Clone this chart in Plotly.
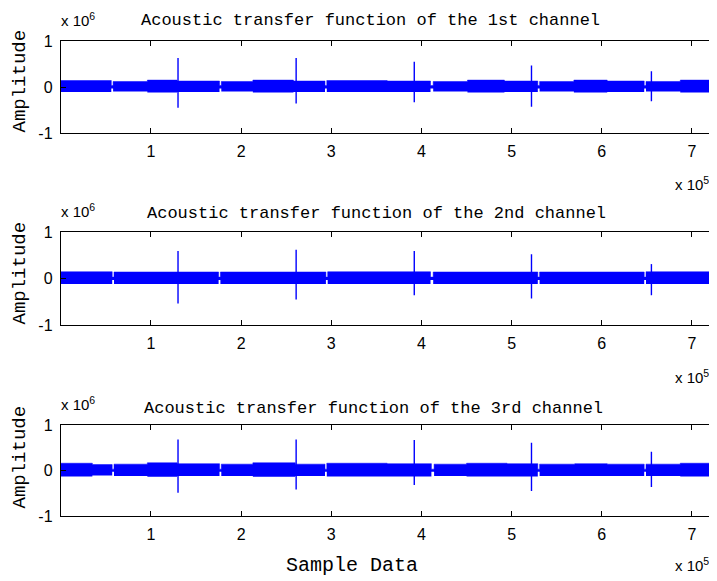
import plotly.graph_objects as go

W, H = 717, 581
OFF = 8  # default page body margin of the html page

# ---- data (x in samples, y in amplitude) ----
X_TICKS = [1e5, 2e5, 3e5, 4e5, 5e5, 6e5, 7e5]
X_TICK_TEXT = ["1", "2", "3", "4", "5", "6", "7"]
Y_TICKS = [-1e6, 0, 1e6]
Y_TICK_TEXT = ["-1", "0", "1"]
TITLES = ["Acoustic transfer function of the 1st channel",
          "Acoustic transfer function of the 2nd channel",
          "Acoustic transfer function of the 3rd channel"]

SPIKE_X = [1.30e5, 2.61e5, 3.92e5, 5.22e5, 6.55e5]
SPIKE_TOP_1 = [0.63e6, 0.63e6, 0.55e6, 0.47e6, 0.34e6]
SPIKE_BOT_1 = [-0.45e6, -0.36e6, -0.33e6, -0.43e6, -0.31e6]
SPIKE_TOP_2 = [0.59e6, 0.62e6, 0.59e6, 0.52e6, 0.31e6]
SPIKE_BOT_2 = [-0.54e6, -0.45e6, -0.36e6, -0.43e6, -0.36e6]
SPIKE_TOP_3 = [0.68e6, 0.68e6, 0.67e6, 0.61e6, 0.41e6]
SPIKE_BOT_3 = [-0.49e6, -0.42e6, -0.32e6, -0.45e6, -0.36e6]

# noise-band envelope: segment start (x1e5), upper and lower edge (x1e6)
BAND_X_1 = [0, 0.56, 0.58, 0.96, 1.29, 1.76, 1.78, 2.13, 2.58, 2.93, 2.95, 3.62, 4.10, 4.13, 4.51, 4.92, 5.29, 5.31, 5.69, 6.06, 6.47, 6.49, 6.87, 7.40]
BAND_UP_1 = [0.14, 0.03, 0.12, 0.15, 0.13, 0.03, 0.12, 0.15, 0.13, 0.03, 0.14, 0.13, 0.03, 0.12, 0.15, 0.13, 0.03, 0.12, 0.15, 0.13, 0.03, 0.12, 0.15, 0.15]
BAND_LO_1 = [-0.11, -0.03, -0.10, -0.12, -0.11, -0.03, -0.10, -0.12, -0.11, -0.03, -0.11, -0.11, -0.03, -0.10, -0.12, -0.11, -0.03, -0.10, -0.12, -0.11, -0.03, -0.10, -0.12, -0.12]

BAND_X_2 = [0, 0.57, 0.59, 1.75, 1.77, 2.94, 2.96, 4.10, 4.13, 5.29, 5.31, 6.47, 6.49, 7.40]
BAND_UP_2 = [0.145, 0.03, 0.14, 0.03, 0.14, 0.03, 0.145, 0.03, 0.14, 0.03, 0.14, 0.03, 0.145, 0.145]
BAND_LO_2 = [-0.12, -0.03, -0.12, -0.03, -0.12, -0.03, -0.12, -0.03, -0.12, -0.03, -0.12, -0.03, -0.12, -0.12]

BAND_X_3 = [0, 0.35, 0.57, 0.59, 0.96, 1.29, 1.76, 1.78, 2.13, 2.60, 2.93, 2.95, 3.62, 4.11, 4.14, 4.50, 4.95, 5.29, 5.31, 5.70, 6.06, 6.47, 6.49, 6.87, 7.40]
BAND_UP_3 = [0.16, 0.13, 0.03, 0.14, 0.17, 0.15, 0.03, 0.14, 0.17, 0.14, 0.03, 0.16, 0.15, 0.03, 0.14, 0.16, 0.15, 0.03, 0.14, 0.15, 0.14, 0.03, 0.14, 0.16, 0.16]
BAND_LO_3 = [-0.13, -0.11, -0.03, -0.12, -0.14, -0.12, -0.03, -0.12, -0.14, -0.12, -0.03, -0.13, -0.13, -0.03, -0.12, -0.13, -0.13, -0.03, -0.12, -0.12, -0.12, -0.03, -0.12, -0.13, -0.13]

BANDS = [(BAND_X_1, BAND_UP_1, BAND_LO_1), (BAND_X_2, BAND_UP_2, BAND_LO_2), (BAND_X_3, BAND_UP_3, BAND_LO_3)]
SPIKES = [(SPIKE_TOP_1, SPIKE_BOT_1), (SPIKE_TOP_2, SPIKE_BOT_2), (SPIKE_TOP_3, SPIKE_BOT_3)]

# ---- layout geometry (page pixels) ----
AX_LEFT = 60.8
PX_PER_1E5 = 90.17
AX_TOP = [41, 232, 425]
AX_BOT = [133, 325, 516]
TITLE_CX = [370, 376, 373]
TITLE_CY = [21, 214, 408]
YLAB_CY = [81, 273, 457]
E5_Y = [187, 380, 568]

BLUE = "#0000FF"
MONO = "Liberation Mono"
SANS = "Liberation Sans, Arial, sans-serif"

def px(x):
    return (x - OFF) / W

def py(y):
    return 1 - (y - OFF) / H

x_end = (W + OFF - AX_LEFT) / PX_PER_1E5 * 1e5

fig = go.Figure()
layout = dict(width=W, height=H, margin=dict(l=0, r=0, t=0, b=0, autoexpand=False),
              paper_bgcolor="white", plot_bgcolor="white", showlegend=False)
annotations = []

for i in range(3):
    sfx = "" if i == 0 else str(i + 1)
    xa, ya = "x" + sfx, "y" + sfx
    bx, bu, bl = BANDS[i]
    xs = [v * 1e5 for v in bx]
    fig.add_trace(go.Scatter(x=xs, y=[v * 1e6 for v in bl], mode="lines",
                             line=dict(width=0, shape="hv", color=BLUE),
                             xaxis=xa, yaxis=ya, hoverinfo="skip"))
    fig.add_trace(go.Scatter(x=xs, y=[v * 1e6 for v in bu], mode="lines",
                             line=dict(width=0.5, shape="hv", color=BLUE),
                             fill="tonexty", fillcolor=BLUE,
                             xaxis=xa, yaxis=ya, hoverinfo="skip"))
    top, bot = SPIKES[i]
    sx, sy = [], []
    for xv, t, b in zip(SPIKE_X, top, bot):
        sx += [xv, xv, None]
        sy += [b, t, None]
    fig.add_trace(go.Scatter(x=sx, y=sy, mode="lines", line=dict(width=1.4, color=BLUE),
                             xaxis=xa, yaxis=ya, hoverinfo="skip"))

    layout["xaxis" + sfx] = dict(
        domain=[px(AX_LEFT), 1], range=[0, x_end], anchor=ya, automargin=False,
        tickvals=X_TICKS, ticktext=X_TICK_TEXT, ticks="inside", ticklen=5,
        tickcolor="black", showline=True, linecolor="black", linewidth=1,
        mirror="allticks", showgrid=False, zeroline=False,
        tickfont=dict(family=SANS, size=16, color="black"), ticklabelstandoff=4)
    layout["yaxis" + sfx] = dict(
        domain=[py(AX_BOT[i]), py(AX_TOP[i])], range=[-1e6, 1e6], anchor=xa, automargin=False,
        tickvals=Y_TICKS, ticktext=Y_TICK_TEXT, ticks="inside", ticklen=5,
        tickcolor="black", showline=True, linecolor="black", linewidth=1,
        showgrid=False, zeroline=False,
        tickfont=dict(family=SANS, size=16, color="black"), ticklabelstandoff=4)

    annotations.append(dict(text=TITLES[i], x=px(TITLE_CX[i]), y=py(TITLE_CY[i]),
                            xref="paper", yref="paper", xanchor="center", yanchor="middle",
                            showarrow=False, font=dict(family=MONO, size=17, color="black")))
    annotations.append(dict(text="Amplitude", x=px(19.5), y=py(YLAB_CY[i]), textangle=-90,
                            xref="paper", yref="paper", xanchor="center", yanchor="middle",
                            showarrow=False, borderpad=0,
                            font=dict(family=MONO, size=19, color="black")))
    annotations.append(dict(text="x 10<sup>6</sup>", x=px(59), y=py(AX_TOP[i] - 10),
                            xref="paper", yref="paper", xanchor="left", yanchor="bottom",
                            showarrow=False, font=dict(family=SANS, size=15, color="black")))
    annotations.append(dict(text="x 10<sup>5</sup>", x=px(673), y=py(E5_Y[i] + 8),
                            xref="paper", yref="paper", xanchor="left", yanchor="bottom",
                            showarrow=False, font=dict(family=SANS, size=15, color="black")))

annotations.append(dict(text="Sample Data", x=px(352), y=py(565),
                        xref="paper", yref="paper", xanchor="center", yanchor="middle",
                        showarrow=False, font=dict(family=MONO, size=20, color="black")))

layout["annotations"] = annotations
fig.update_layout(**layout)
fig.write_html("out.html")
